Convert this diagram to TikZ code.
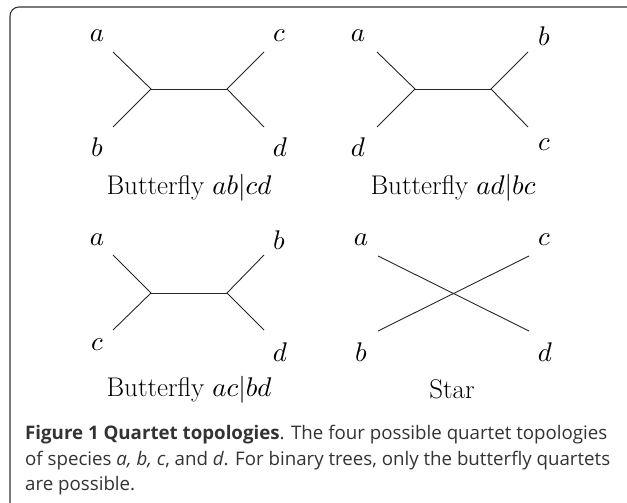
\documentclass[tikz,border=0pt]{standalone}
\usepackage{fontspec}
\newfontfamily\capfont{Open Sans}
\DeclareFontShape{OML}{cmm}{m}{it}{<->cmmi10}{}
\DeclareFontShape{OMS}{cmsy}{m}{n}{<->cmsy10}{}
\begin{document}
\begin{tikzpicture}[x=1pt,y=-1pt,
  lbl/.style={inner sep=0pt, font=\fontsize{27}{32}\selectfont},
  ttl/.style={inner sep=0pt, font=\fontsize{27}{32}\selectfont},
  edge/.style={draw=black!85, line width=0.9pt},
  capline/.style={anchor=base west, inner sep=0pt, font=\capfont\fontsize{18.7}{22}\selectfont, text=black!80}]
\useasboundingbox (0,0) rectangle (627,503);
\draw[rounded corners=9pt, line width=1.1pt, draw=black!80] (10,7) rectangle (652,512);
% Tree 1: ab|cd
\node[lbl] (a1) at (97,36) {$a$};
\node[lbl] (c1) at (279,36) {$c$};
\node[lbl] (b1) at (97,147) {$b$};
\node[lbl] (d1) at (280,147) {$d$};
\coordinate (a1e) at (113,52); \coordinate (b1e) at (113,127);
\coordinate (c1e) at (264,52); \coordinate (d1e) at (264,127);
\coordinate (u1) at (151,89); \coordinate (v1) at (227,89);
\draw[edge] (a1e) -- (u1) -- (b1e);
\draw[edge] (u1) -- (v1);
\draw[edge] (c1e) -- (v1) -- (d1e);
\node[ttl] (t1) at (189,188) {Butterfly $ab|cd$};
% Tree 2: ad|bc
\node[lbl] (a2) at (358,36) {$a$};
\node[lbl] (b2) at (544,36) {$b$};
\node[lbl] (d2) at (358,147) {$d$};
\node[lbl] (c2) at (544,145) {$c$};
\coordinate (a2e) at (377,52); \coordinate (d2e) at (377,127);
\coordinate (b2e) at (528,52); \coordinate (c2e) at (528,127);
\coordinate (u2) at (415,89); \coordinate (v2) at (491,89);
\draw[edge] (a2e) -- (u2) -- (d2e);
\draw[edge] (u2) -- (v2);
\draw[edge] (b2e) -- (v2) -- (c2e);
\node[ttl] (t2) at (453,188) {Butterfly $ad|bc$};
% Tree 3: ac|bd
\node[lbl] (a3) at (97,240) {$a$};
\node[lbl] (b3) at (279,240) {$b$};
\node[lbl] (c3) at (97,345) {$c$};
\node[lbl] (d3) at (280,352) {$d$};
\coordinate (a3e) at (113,255); \coordinate (c3e) at (113,330);
\coordinate (b3e) at (264,255); \coordinate (d3e) at (264,330);
\coordinate (u3) at (151,293); \coordinate (v3) at (227,293);
\draw[edge] (a3e) -- (u3) -- (c3e);
\draw[edge] (u3) -- (v3);
\draw[edge] (b3e) -- (v3) -- (d3e);
\node[ttl] (t3) at (189,390) {Butterfly $ac|bd$};
% Star
\node[lbl] (a4) at (361,240) {$a$};
\node[lbl] (c4) at (544,240) {$c$};
\node[lbl] (b4) at (361,352) {$b$};
\node[lbl] (d4) at (545,352) {$d$};
\coordinate (a4e) at (378,256); \coordinate (c4e) at (529,256);
\coordinate (b4e) at (378,331); \coordinate (d4e) at (529,331);
\draw[edge] (a4e) -- (d4e);
\draw[edge] (b4e) -- (c4e);
\node[ttl] (t4) at (452,389) {Star};
% Caption
\node[capline] (cap1) at (25,439) {{\bfseries Figure 1 Quartet topologies}. The four possible quartet topologies};
\node[capline] (cap2) at (25,465) {of species \textit{a, b, c}, and \textit{d}. For binary trees, only the butterfly quartets};
\node[capline] (cap3) at (25,490) {are possible.};
\end{tikzpicture}
\end{document}
